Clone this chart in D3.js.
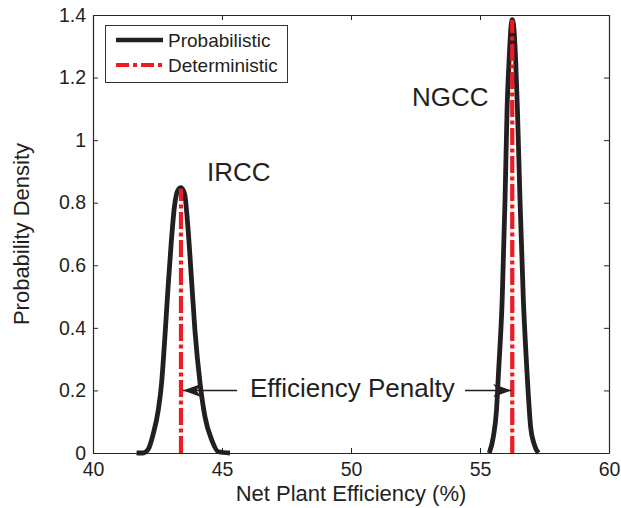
<!DOCTYPE html>
<html>
<head>
<meta charset="utf-8">
<script src="https://cdn.jsdelivr.net/npm/d3@7"></script>
<style>
  body { margin: 0; background: #fff; }
  text { font-family: "Liberation Sans", Arial, sans-serif; fill: #231f20; }
</style>
</head>
<body>
<div id="chart"></div>
<script>
// probability density (efficiency %, density)
const irccX = [41.69, 41.94, 42.14, 42.34, 42.53, 42.66, 42.79, 42.91, 43.03, 43.16, 43.28, 43.41, 43.55, 43.68, 43.82, 43.95, 44.15, 44.34, 44.60, 44.86, 45.31];
const irccY = [0, 0, 0.012, 0.063, 0.137, 0.225, 0.375, 0.53, 0.67, 0.79, 0.838, 0.848, 0.828, 0.72, 0.553, 0.393, 0.223, 0.116, 0.042, 0.004, 0];

const ngccX = [55.36, 55.52, 55.64, 55.72, 55.86, 55.97, 56.05, 56.13, 56.20, 56.25, 56.31, 56.38, 56.45, 56.55, 56.68, 56.80, 56.87, 56.96, 57.09, 57.26];
const ngccY = [0, 0.053, 0.137, 0.26, 0.49, 0.81, 1.10, 1.26, 1.36, 1.385, 1.36, 1.26, 1.10, 0.81, 0.49, 0.29, 0.19, 0.085, 0.031, 0];

// deterministic values
const detX = [43.41, 56.25];
const detY = [0.845, 1.385];

const xTicks = [40, 45, 50, 55, 60];
const yTicks = [0, 0.2, 0.4, 0.6, 0.8, 1, 1.2, 1.4];

const width = 621, height = 508;
const margin = { top: 15, right: 12, bottom: 55, left: 93 };

const black = "#231f20";
const red = "#ed1c24";
const dashDot = "17,3.5,4,3.5";

const svg = d3.select("#chart").append("svg")
  .attr("width", width)
  .attr("height", height);

const x = d3.scaleLinear()
  .domain([40, 60])
  .range([margin.left, width - margin.right]);

const y = d3.scaleLinear()
  .domain([0, 1.4])
  .range([height - margin.bottom, margin.top]);

// axes, box style with inward ticks
const axisColor = "#262626";
const tickLen = 5;

svg.append("g")
  .attr("transform", `translate(0,${y(0)})`)
  .call(d3.axisBottom(x).tickValues(xTicks).tickSizeInner(-tickLen).tickSizeOuter(0).tickPadding(9).tickFormat(d3.format("d")));

svg.append("g")
  .attr("transform", `translate(0,${y(1.4)})`)
  .call(d3.axisTop(x).tickValues(xTicks).tickSizeInner(-tickLen).tickSizeOuter(0).tickFormat(""));

svg.append("g")
  .attr("transform", `translate(${x(40)},0)`)
  .call(d3.axisLeft(y).tickValues(yTicks).tickSizeInner(-tickLen).tickSizeOuter(0).tickPadding(7).tickFormat(d => d3.format("")(+d.toFixed(1))));

svg.append("g")
  .attr("transform", `translate(${x(60)},0)`)
  .call(d3.axisRight(y).tickValues(yTicks).tickSizeInner(-tickLen).tickSizeOuter(0).tickFormat(""));

svg.selectAll(".domain").attr("stroke", axisColor).attr("stroke-width", 1.2);
svg.selectAll(".tick line").attr("stroke", axisColor).attr("stroke-width", 1);
svg.selectAll(".tick text")
  .style("font-size", "19.5px")
  .style("font-family", "'Liberation Sans', Arial, sans-serif")
  .attr("fill", black);

// axis titles
svg.append("text")
  .attr("x", (x(40) + x(60)) / 2)
  .attr("y", 501)
  .attr("text-anchor", "middle")
  .style("font-size", "22px")
  .text("Net Plant Efficiency (%)");

svg.append("text")
  .attr("transform", `translate(29,${(y(0) + y(1.4)) / 2}) rotate(-90)`)
  .attr("text-anchor", "middle")
  .style("font-size", "22px")
  .text("Probability Density");

// density curves
const line = d3.line()
  .x(d => x(d[0]))
  .y(d => y(d[1]))
  .curve(d3.curveMonotoneX);

const curves = [d3.zip(irccX, irccY), d3.zip(ngccX, ngccY)];

svg.selectAll(".prob")
  .data(curves)
  .enter().append("path")
  .attr("class", "prob")
  .attr("d", line)
  .attr("fill", "none")
  .attr("stroke", black)
  .attr("stroke-width", 4.8)
  .attr("stroke-linejoin", "round");

// deterministic lines
svg.selectAll(".det")
  .data(d3.zip(detX, detY))
  .enter().append("line")
  .attr("class", "det")
  .attr("x1", d => x(d[0]))
  .attr("x2", d => x(d[0]))
  .attr("y1", y(0))
  .attr("y2", d => y(d[1]))
  .attr("stroke", red)
  .attr("stroke-width", 4.2)
  .attr("stroke-dasharray", dashDot);

// labels
svg.append("text")
  .attr("x", 207).attr("y", 181)
  .style("font-size", "26px")
  .text("IRCC");

svg.append("text")
  .attr("x", 412).attr("y", 106)
  .style("font-size", "26px")
  .text("NGCC");

// efficiency penalty annotation
const arrowY = y(0.2);
svg.append("defs").append("marker")
  .attr("id", "head")
  .attr("viewBox", "0 -7 18 14")
  .attr("refX", 18).attr("refY", 0)
  .attr("markerWidth", 18).attr("markerHeight", 14)
  .attr("markerUnits", "userSpaceOnUse")
  .attr("orient", "auto")
  .append("path")
  .attr("d", "M0,-6.5L18,0L0,6.5L4.5,0Z")
  .attr("fill", black);

svg.append("line")
  .attr("x1", 237).attr("x2", x(detX[0]) + 2)
  .attr("y1", arrowY).attr("y2", arrowY)
  .attr("stroke", black).attr("stroke-width", 1.4)
  .attr("marker-end", "url(#head)");

svg.append("line")
  .attr("x1", 465).attr("x2", x(detX[1]) - 1)
  .attr("y1", arrowY).attr("y2", arrowY)
  .attr("stroke", black).attr("stroke-width", 1.4)
  .attr("marker-end", "url(#head)");

svg.append("text")
  .attr("x", 250).attr("y", 397)
  .style("font-size", "26px")
  .text("Efficiency Penalty");

// legend
const legend = svg.append("g");
legend.append("rect")
  .attr("x", 105.5).attr("y", 25.5)
  .attr("width", 182).attr("height", 57)
  .attr("fill", "#fff")
  .attr("stroke", "#333")
  .attr("stroke-width", 1);

const legendItems = [
  { label: "Probabilistic", color: black, dash: null, w: 4.5 },
  { label: "Deterministic", color: red, dash: "13,4,4,4", w: 4.2 }
];

legendItems.forEach((item, i) => {
  const ly = 40 + i * 25;
  legend.append("line")
    .attr("x1", 116).attr("x2", 163)
    .attr("y1", ly).attr("y2", ly)
    .attr("stroke", item.color)
    .attr("stroke-width", item.w)
    .attr("stroke-dasharray", item.dash);
  legend.append("text")
    .attr("x", 168).attr("y", ly + 7)
    .style("font-size", "19px")
    .text(item.label);
});
</script>
</body>
</html>
